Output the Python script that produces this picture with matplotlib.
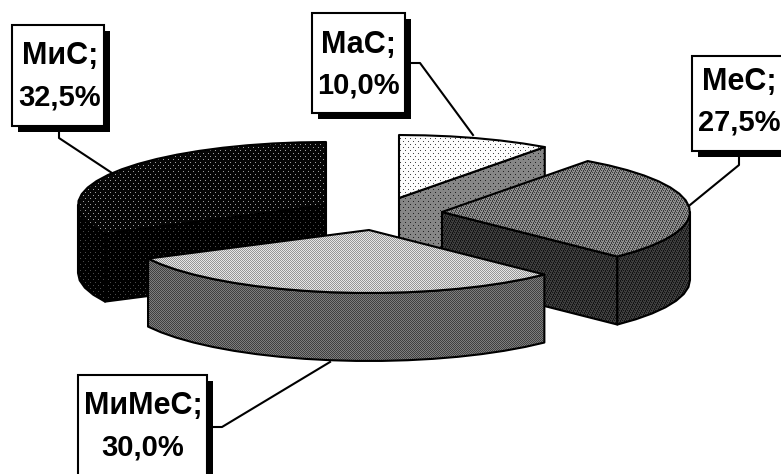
import numpy as np
import matplotlib
matplotlib.use('Agg')
import matplotlib.pyplot as plt
from matplotlib.patches import Polygon, Rectangle

plt.rcParams['font.family'] = ['Liberation Sans', 'DejaVu Sans']

names = ['МаС', 'МеС', 'МиМеС', 'МиС']
shares = [10.0, 27.5, 30.0, 32.5]
label_values = ['10,0%', '27,5%', '30,0%', '32,5%']

W, H = 781, 474
RX, RY, DEPTH = 248, 63, 68
# apex of every exploded slice, in pixels
apex = {'МаС': (399, 198), 'МеС': (442, 212), 'МиМеС': (369, 230), 'МиС': (326, 205)}
# (background, dots, pattern) for the top and for the sides
styles = {
    'МаС': (('#fcfcfc', '#444444', 'dots'), ('#868686', '#222222', 'dots')),
    'МеС': (('#8e8e8e', '#3c3c3c', 'fine'), ('#3e3e3e', '#141414', 'fine')),
    'МиМеС': (('#e6e6e6', '#969696', 'check'), ('#7e7e7e', '#404040', 'check')),
    'МиС': (('#060606', '#a0a0a0', 'dots'), ('#000000', '#4a4a4a', 'dots')),
}
boxes = {
    'МаС': (312, 13, 405, 113),
    'МеС': (692, 56, 790, 151),
    'МиМеС': (78, 375, 207, 490),
    'МиС': (12, 25, 104, 126),
}
leaders = {
    'МаС': [(405, 63), (420, 63), (473, 135)],
    'МеС': [(739, 151), (739, 165), (690, 205)],
    'МиМеС': [(207, 427), (222, 427), (330, 362)],
    'МиС': [(59, 126), (59, 138), (112, 173)],
}
text_pos = {
    'МаС': (358, 45, 85),
    'МеС': (739, 82, 122),
    'МиМеС': (143, 406, 448),
    'МиС': (60, 56, 97),
}


def pattern(kind):
    yy, xx = np.mgrid[0:H, 0:W]
    if kind == 'dots':
        return (yy % 3 == 0) & ((xx + 2 * (yy // 3 % 2)) % 5 == 0)
    if kind == 'fine':
        return (yy % 2 == 0) & ((xx + yy // 2) % 2 == 0) | (yy % 2 == 1) & ((xx + yy // 2) % 4 == 0)
    return (xx + yy) % 2 == 0


def fill(ax, pts, style, zorder):
    bg, fg, kind = style
    img = np.zeros((H, W, 3))
    img[:] = matplotlib.colors.to_rgb(bg)
    img[pattern(kind)] = matplotlib.colors.to_rgb(fg)
    im = ax.imshow(img, extent=(0, W, H, 0), interpolation='nearest', zorder=zorder, aspect='auto')
    edge = Polygon(pts, closed=True, fc='none', ec='black', lw=1.5, zorder=zorder + 0.1, joinstyle='round')
    ax.add_patch(edge)
    im.set_clip_path(edge)


def rim(cx, cy, a0, a1, dy=0):
    steps = max(2, int((a1 - a0) / 6) + 1)
    t = np.radians(np.linspace(a0, a1, steps))
    return list(zip(cx + RX * np.sin(t), cy - RY * np.cos(t) + dy))


def cut_face(ax, cx, cy, angle, style, zorder):
    p = rim(cx, cy, angle, angle)[0]
    fill(ax, [(cx, cy), p, (p[0], p[1] + DEPTH), (cx, cy + DEPTH)], style, zorder)


fig = plt.figure(figsize=(W / 100, H / 100), dpi=100)
ax = fig.add_axes([0, 0, 1, 1])

# slice angles come from the shares, clockwise from 12 o'clock
edges = np.cumsum([0] + shares) * 3.6
angles = {n: (edges[i], edges[i + 1]) for i, n in enumerate(names)}

z = 2
for n in ['МаС', 'МиС', 'МеС', 'МиМеС']:
    a0, a1 = angles[n]
    cx, cy = apex[n]
    top_style, side_style = styles[n]
    # cut faces that look to the viewer
    if a1 < 180:
        cut_face(ax, cx, cy, a1, side_style, z)
    if a0 > 180:
        cut_face(ax, cx, cy, a0, side_style, z)
    # outer wall, only the front half shows
    f0, f1 = max(a0, 90), min(a1, 270)
    if f1 > f0:
        upper = rim(cx, cy, f0, f1)
        lower = rim(cx, cy, f0, f1, DEPTH)
        fill(ax, upper + lower[::-1], side_style, z + 0.2)
    fill(ax, [(cx, cy)] + rim(cx, cy, a0, a1), top_style, z + 0.4)
    z += 1

for n, v in zip(names, label_values):
    x0, y0, x1, y1 = boxes[n]
    ax.add_line(plt.Line2D(*zip(*leaders[n]), color='black', lw=1.5, zorder=10))
    ax.add_patch(Rectangle((x0 + 6, y0 + 6), x1 - x0, y1 - y0, fc='black', ec='none', zorder=11))
    ax.add_patch(Rectangle((x0, y0), x1 - x0, y1 - y0, fc='white', ec='black', lw=1.5, zorder=12))
    tx, y_a, y_b = text_pos[n]
    ax.text(tx, y_a, n + ';', ha='center', va='center', fontsize=22, fontweight='bold', zorder=13)
    ax.text(tx, y_b, v, ha='center', va='center', fontsize=21, fontweight='bold', zorder=13)

ax.set_xlim(0, W)
ax.set_ylim(H, 0)
ax.axis('off')
fig.savefig('out.png', dpi=100, facecolor='white')
